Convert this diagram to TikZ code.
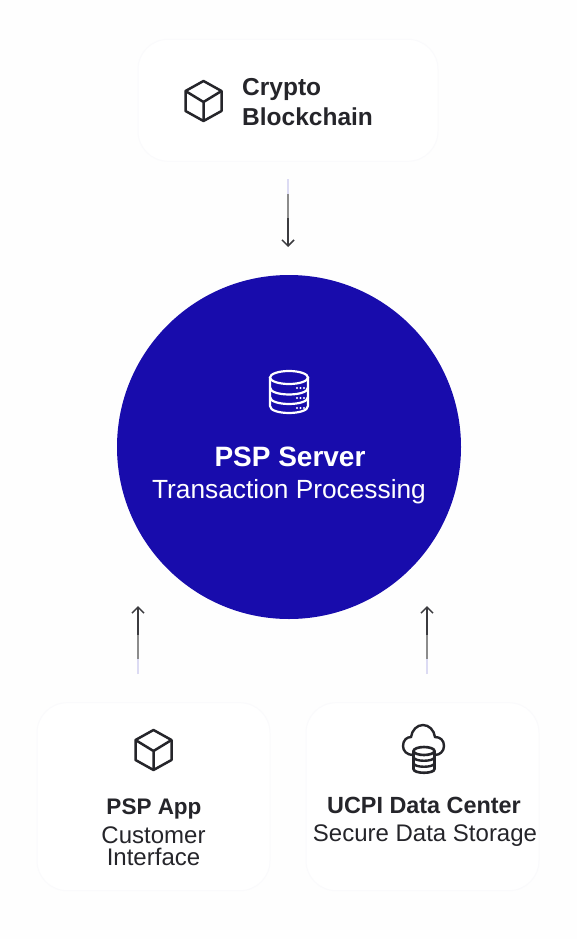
\documentclass[tikz,border=0pt]{standalone}
\usepackage{fontspec}
\setmainfont{Liberation Sans}
\usetikzlibrary{positioning,calc,arrows.meta}
\definecolor{pspblue}{RGB}{24,12,172}
\definecolor{pspink}{RGB}{37,37,42}
\definecolor{pageback}{RGB}{254,254,254}
\definecolor{cardline}{RGB}{250,250,252}
\newcommand{\flowarrow}[2]{%
  \draw[flowfaint] (#1) -- ($(#1)!.22!(#2)$);
  \draw[flowmid]   ($(#1)!.22!(#2)$) -- ($(#1)!.58!(#2)$);
  \draw[flowdark]  ($(#1)!.58!(#2)$) -- (#2);
}
\begin{document}
\begin{tikzpicture}[
    x=1pt, y=-1pt,
    card/.style={draw=cardline, line width=1pt, rounded corners=30pt, fill=white, minimum width=233pt, minimum height=188pt, inner sep=0pt},
    server/.style={circle, fill=pspblue, minimum size=344pt, inner sep=0pt},
    titletext/.style={text=pspink, font=\fontsize{23}{23}\selectfont\bfseries, inner sep=0pt, anchor=base},
    subtext/.style={text=pspink, font=\fontsize{24}{22}\selectfont, inner sep=0pt, anchor=base, align=center},
    flowfaint/.style={line width=1.3pt, draw=pspblue!15},
    flowmid/.style={line width=1.3pt, draw=black!45},
    flowdark/.style={line width=1.3pt, draw=pspink!90, -{Straight Barb[length=6pt,width=12pt,line width=1.5pt]}},
    cubeicon/.pic={
      \draw[pspink, line width=2.5pt, line join=round] (0,-20) -- (18,-10) -- (18,10) -- (0,20) -- (-18,10) -- (-18,-10) -- cycle;
      \draw[pspink, line width=2.5pt, line join=round] (-18,-10) -- (0,1) -- (18,-10) (0,1) -- (0,20);
    },
    serverdb/.pic={
      \draw[white, line width=2.2pt] (0,-14.5) ellipse (19pt and 6.5pt);
      \draw[white, line width=2.2pt] (-19,-14.5) -- (-19,14) .. controls (-19,23.3) and (19,23.3) .. (19,14) -- (19,-14.5);
      \foreach \y in {-4.5,5}
        \draw[white, line width=2.2pt] (-19,\y) .. controls (-19,\y+9.3) and (19,\y+9.3) .. (19,\y);
      \foreach \y in {-4,6,16}
        \foreach \x in {8,11.5,15}
          \fill[white] (\x,\y) circle (1.1pt);
    },
    clouddb/.pic={
      \draw[pspink, line width=2.4pt, line cap=round] (-10,10) .. controls (-16,10) and (-20,6) .. (-20,1)
        .. controls (-20,-5) and (-16,-8) .. (-12,-8) .. controls (-11,-15) and (-6,-20) .. (0,-20)
        .. controls (6,-20) and (11,-15) .. (12,-8) .. controls (17,-8) and (21,-5) .. (21,1)
        .. controls (21,6) and (17,10) .. (12,10);
      \draw[pspink, line width=2.6pt, fill=white] (1,6) ellipse (10.5pt and 4pt);
      \draw[pspink, line width=2.6pt] (-9.5,6) -- (-9.5,24) .. controls (-9.5,29) and (11.5,29) .. (11.5,24) -- (11.5,6);
      \foreach \y in {12,18}
        \draw[pspink, line width=2.4pt] (-9.5,\y) .. controls (-9.5,\y+5) and (11.5,\y+5) .. (11.5,\y);
    },
]
\fill[pageback] (0,0) rectangle (577,939);
\useasboundingbox (0,0) rectangle (577,939);

\node[server] (server) at (289,447) {};
\node[card, above=113pt of server, xshift=-1pt, minimum width=300pt, minimum height=122pt] (crypto) {};
\node[card, below=83pt of server, xshift=-135.5pt] (app) {};
\node[card, below=83pt of server, xshift=133.5pt]  (ucpi) {};

% icons
\pic at (203.5,101) {cubeicon};
\pic at (289,392) {serverdb};
\pic at (153.5,750) {cubeicon};
\pic at (423,745) {clouddb};

% card texts
\node[titletext, font=\fontsize{24.5}{30}\selectfont\bfseries, align=left, anchor=base west] (cryptotext) at (242,126) {Crypto\\Blockchain};
\node[titletext, text=white, font=\fontsize{28}{28}\selectfont\bfseries] (servertitle) at (290,466) {PSP Server};
\node[subtext, text=white, font=\fontsize{26.3}{26}\selectfont] (serversub) at (289,498) {Transaction Processing};
\node[titletext, font=\fontsize{22.5}{23}\selectfont\bfseries] (apptitle) at (154,814) {PSP App};
\node[subtext] (appsub) at (153.5,865) {Customer\\Interface};
\node[titletext, font=\fontsize{23.4}{23}\selectfont\bfseries] (ucpititle) at (424,813) {UCPI Data Center};
\node[subtext] (ucpisub) at (425,841) {Secure Data Storage};

% connectors
\coordinate (cryptotail) at (288,179);
\coordinate (cryptohead) at (288,247);
\coordinate (apptail)    at (138,674);
\coordinate (apphead)    at (138,606);
\coordinate (ucpitail)   at (427,674);
\coordinate (ucpihead)   at (427,606);

\flowarrow{cryptotail}{cryptohead}
\flowarrow{apptail}{apphead}
\flowarrow{ucpitail}{ucpihead}
\end{tikzpicture}
\end{document}
